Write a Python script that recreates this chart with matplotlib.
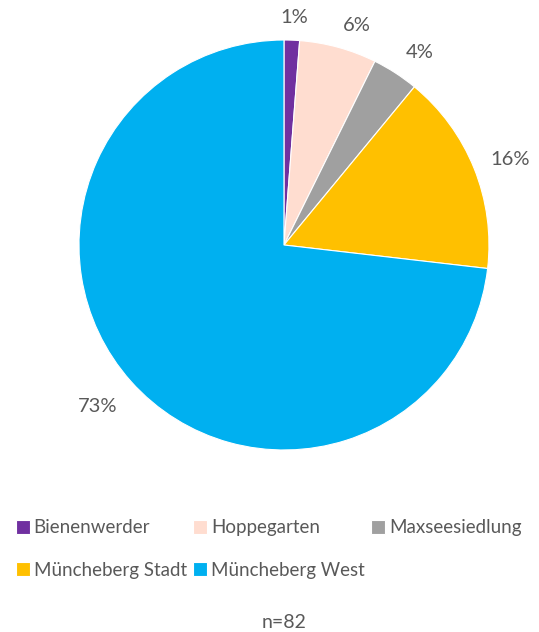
import matplotlib
matplotlib.use("Agg")
import matplotlib.pyplot as plt
import numpy as np

categories = ["Bienenwerder", "Hoppegarten", "Maxseesiedlung", "Müncheberg Stadt", "Müncheberg West"]
counts = [1, 5, 3, 13, 60]
colors = ["#7030A0", "#FFDDD0", "#A0A0A0", "#FFC000", "#00B0F0"]
n_total = 82

plt.rcParams['font.family'] = ['Lato', 'DejaVu Sans']
txt_color = "#595959"

fig = plt.figure(figsize=(5.39, 6.32), dpi=100)
ax = fig.add_axes([0.1465, 0.2880, 0.7607, 0.6487])

wedges, texts, autotexts = ax.pie(
    counts, colors=colors, startangle=90, counterclock=False,
    autopct=lambda p: f"{p:.0f}%", pctdistance=1.15,
    wedgeprops=dict(edgecolor="white", linewidth=0.8),
    textprops=dict(color=txt_color, fontsize=14.5))
ax.set_xlim(-1, 1)
ax.set_ylim(-1, 1)
ax.set_aspect('equal')

# label positions as in the reference (polar angle in degrees; radial distance)
label_angles = [87.5, 71.6, 54.8, 20.6, 220.9]
dists = [1.11, 1.13, 1.15, 1.18, 1.20]
for t, a, d in zip(autotexts, label_angles, dists):
    ang = np.deg2rad(a)
    t.set_position((d * np.cos(ang), d * np.sin(ang)))

# row-major legend order in a 3-column layout
order = [0, 3, 1, 4, 2]
leg = fig.legend([wedges[i] for i in order], [categories[i] for i in order],
                 loc="upper left", bbox_to_anchor=(-0.002, 0.205),
                 ncol=3, frameon=False, fontsize=13.5, handlelength=0.75, handleheight=0.75,
                 handletextpad=0.2, columnspacing=0.35, labelspacing=1.35,
                 labelcolor=txt_color)

fig.text(0.527, 1 - 623 / 632, f"n={n_total}", ha="center", va="center",
         fontsize=14, color=txt_color)

fig.savefig("out.png", dpi=100)
